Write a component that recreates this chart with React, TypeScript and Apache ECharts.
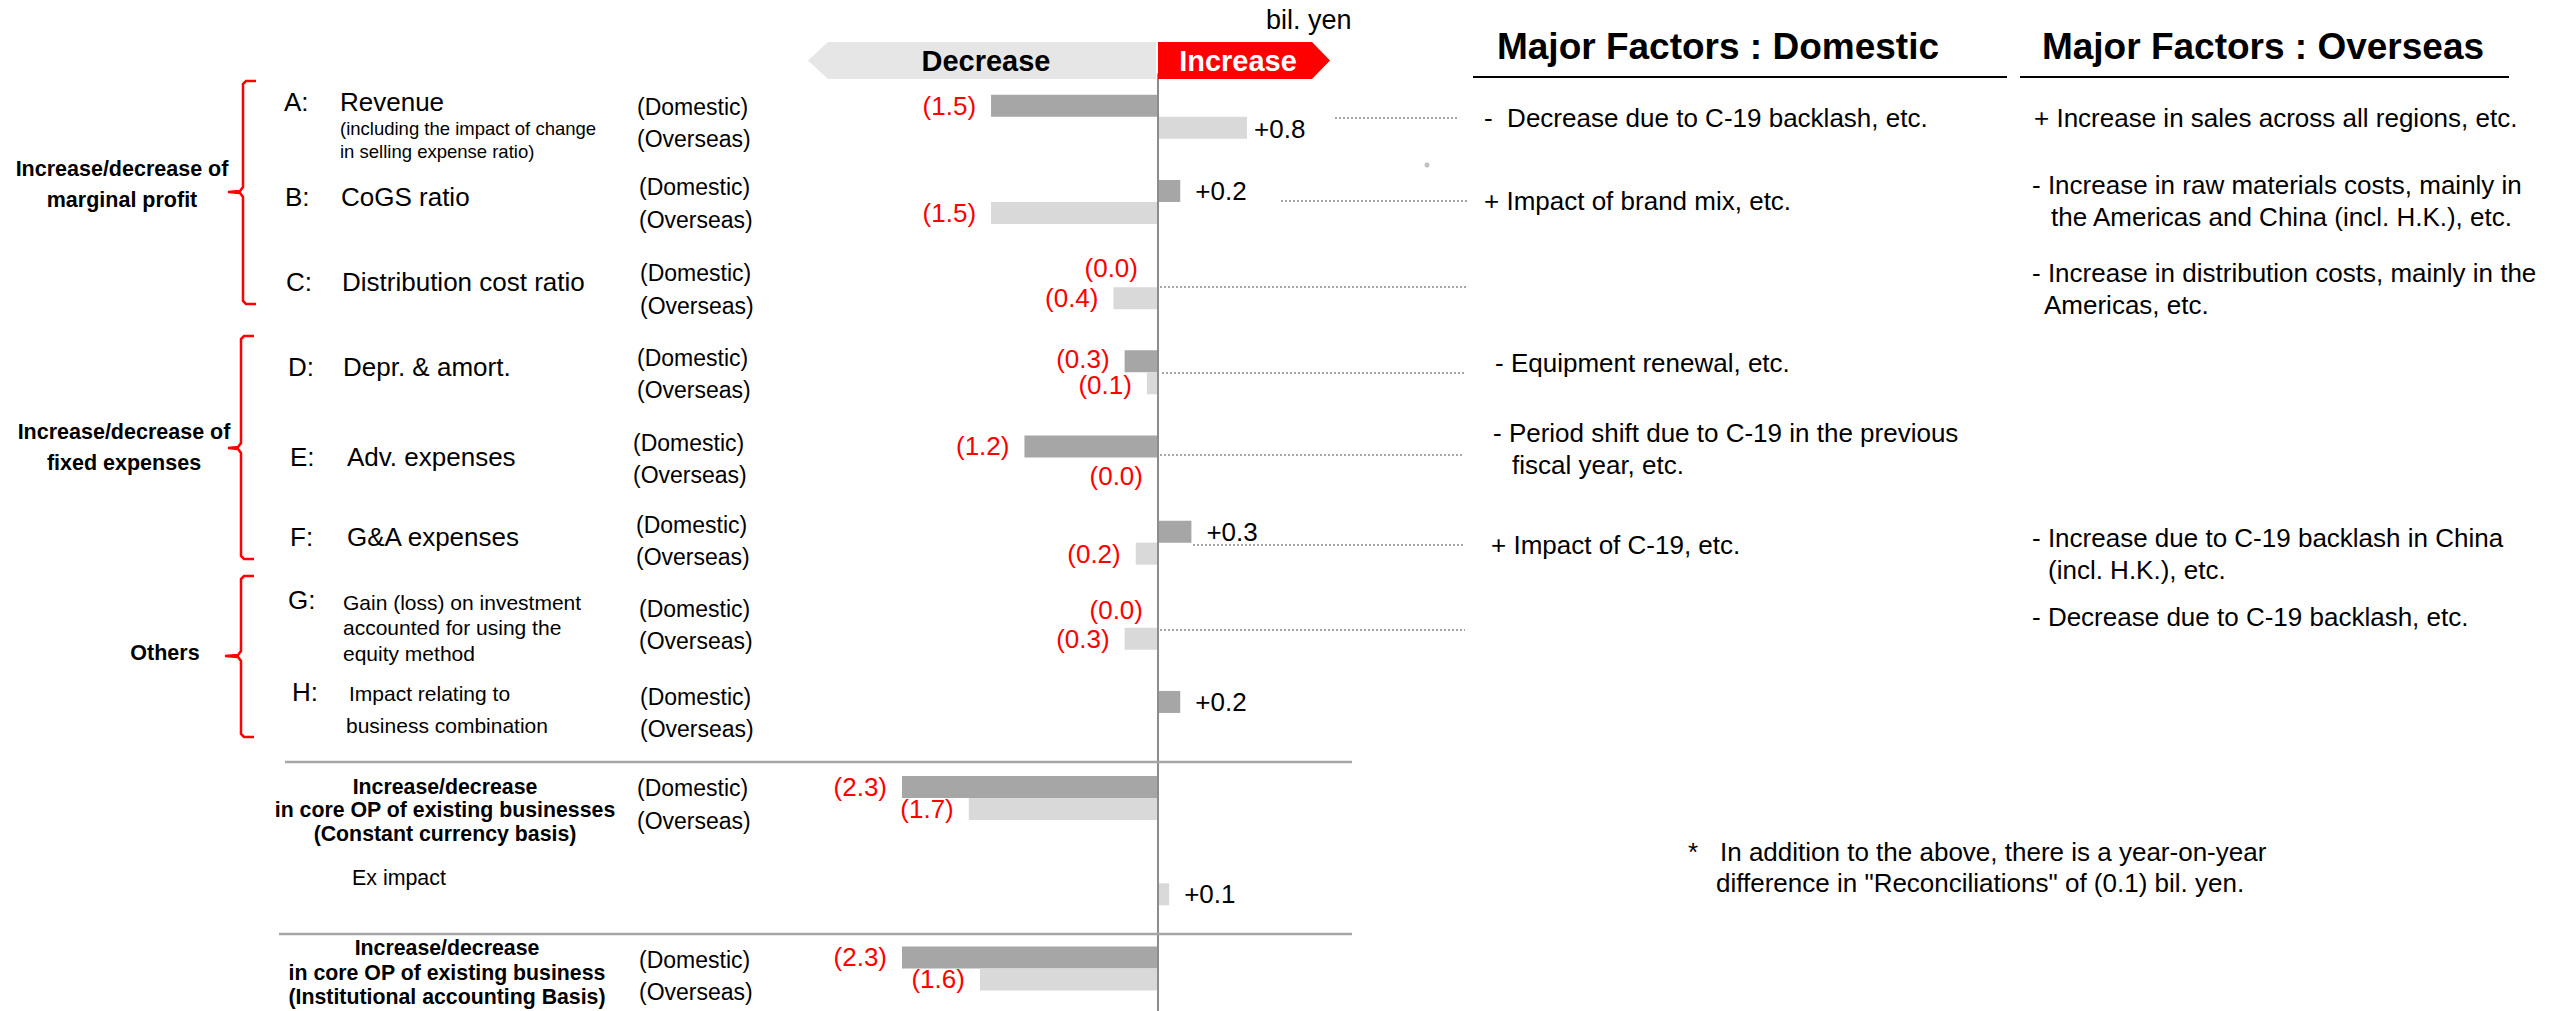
import React, { useEffect, useRef } from "react";
import * as echarts from "echarts";

// ---------------- data ----------------
const categories = [
  "A: Revenue",
  "B: CoGS ratio",
  "C: Distribution cost ratio",
  "D: Depr. & amort.",
  "E: Adv. expenses",
  "F: G&A expenses",
  "G: Gain (loss) on investment accounted for using the equity method",
  "H: Impact relating to business combination",
  "Increase/decrease in core OP of existing businesses (Constant currency basis)",
  "Ex impact",
  "Increase/decrease in core OP of existing business (Institutional accounting Basis)",
];
const domesticValues: (number | null)[] = [-1.5, 0.2, 0.0, -0.3, -1.2, 0.3, 0.0, 0.2, -2.3, null, -2.3];
const overseasValues: (number | null)[] = [0.8, -1.5, -0.4, -0.1, 0.0, -0.2, -0.3, null, -1.7, 0.1, -1.6];

const domesticFactors = [
  "-  Decrease due to C-19 backlash, etc.",
  "+ Impact of brand mix, etc.",
  "- Equipment renewal, etc.",
  "- Period shift due to C-19 in the previous",
  "fiscal year, etc.",
  "+ Impact of C-19, etc.",
];
const overseasFactors = [
  "+ Increase in sales across all regions, etc.",
  "- Increase in raw materials costs, mainly in",
  "the Americas and China (incl. H.K.), etc.",
  "- Increase in distribution costs, mainly in the",
  "Americas, etc.",
  "- Increase due to C-19 backlash in China",
  "(incl. H.K.), etc.",
  "- Decrease due to C-19 backlash, etc.",
];

// ---------------- layout / style (not data) ----------------
const FONT = "'Liberation Sans', Arial, Helvetica, sans-serif";
const RED = "#ff0000";
const DOM_COLOR = "#a6a6a6";
const OVS_COLOR = "#d9d9d9";
const PX_PER_UNIT = 111.3;
const ZERO_X = 1158;
const X_MIN = -3;
const X_MAX = 2;
const BAND = 85.5;
const GRID_TOP = 74.25;

const domLabelOffsetY = [0, 0, -8, -2, 0, 0, -7, 0, 0, 0, 0];
const ovsLabelOffsetY = [1, 0, 0, 2, 8, 0, 0, 0, 0, 0, 0];
const domLabelDist = [15, 15, 20, 15, 15, 15, 15, 15, 15, 15, 15];
const ovsLabelDist = [7, 15, 15, 15, 15, 15, 15, 15, 15, 15, 15];

const domFactorPos = [
  [1484, 118], [1484, 201], [1495, 363], [1493, 433], [1512, 465], [1491, 545],
];
const ovsFactorPos = [
  [2034, 118], [2032, 185], [2051, 217], [2032, 273], [2044, 305], [2032, 538], [2048, 570], [2032, 617],
];
const regionLabelY = [
  [107, 139], [187, 220], [273, 306], [358, 390], [443, 475], [525, 557], [609, 641], [697, 729], [788, 821], null, [960, 992],
];
const regionLabelX = [637, 639, 640, 637, 633, 636, 639, 640, 637, 0, 639];

const leaderLines = [
  [1335, 1458, 118], [1281, 1468, 201], [1160, 1468, 287], [1162, 1465, 373],
  [1160, 1463, 455], [1193, 1465, 545], [1160, 1465, 630],
];

function txt(text: string, x: number, y: number, size: number, o: any = {}) {
  const align = o.align || "left";
  return {
    type: "text",
    x,
    y,
    silent: true,
    z: 20,
    style: {
      text,
      fontSize: size,
      fontFamily: FONT,
      fontWeight: o.bold ? "bold" : "normal",
      fill: o.color || "#000",
      textAlign: align,
      align,
      textVerticalAlign: "middle",
      verticalAlign: "middle",
      lineHeight: o.lh,
    },
  };
}

function brace(x: number, top: number, bottom: number, tipX: number, tipY: number) {
  return {
    type: "polyline",
    silent: true,
    z: 20,
    shape: {
      points: [
        [x + 13, top], [x + 3, top], [x, top + 3], [x, tipY - 5], [x - 3, tipY - 1], [tipX, tipY],
        [x - 3, tipY + 1], [x, tipY + 5], [x, bottom - 3], [x + 3, bottom], [x + 13, bottom],
      ],
    },
    style: { stroke: RED, lineWidth: 2.5, fill: null },
  };
}

function buildGraphics() {
  const g: any[] = [];
  // Decrease / Increase arrows
  g.push({
    type: "polygon", silent: true, z: 5,
    shape: { points: [[808, 60.5], [828, 42], [1156, 42], [1156, 79], [828, 79]] },
    style: { fill: "#e6e6e6" },
  });
  g.push({
    type: "polygon", silent: true, z: 5,
    shape: { points: [[1158, 42], [1312, 42], [1330, 60.5], [1312, 79], [1158, 79]] },
    style: { fill: RED },
  });
  g.push(txt("Decrease", 986, 61, 29, { bold: true, align: "center" }));
  g.push(txt("Increase", 1238, 61, 29, { bold: true, align: "center", color: "#fff" }));
  g.push(txt("bil. yen", 1266, 20, 27));

  // headers
  g.push(txt("Major Factors : Domestic", 1718, 46, 37, { bold: true, align: "center" }));
  g.push(txt("Major Factors : Overseas", 2263, 46, 37, { bold: true, align: "center" }));
  g.push({ type: "line", silent: true, z: 5, shape: { x1: 1473, y1: 77, x2: 2007, y2: 77 }, style: { stroke: "#000", lineWidth: 2 } });
  g.push({ type: "line", silent: true, z: 5, shape: { x1: 2020, y1: 77, x2: 2509, y2: 77 }, style: { stroke: "#000", lineWidth: 2 } });

  // factors
  domesticFactors.forEach((t, i) => g.push(txt(t, domFactorPos[i][0], domFactorPos[i][1], 26)));
  overseasFactors.forEach((t, i) => g.push(txt(t, ovsFactorPos[i][0], ovsFactorPos[i][1], 26)));

  // footnote
  g.push(txt("*", 1688, 852, 26));
  g.push(txt("In addition to the above, there is a year-on-year", 1720, 852, 26));
  g.push(txt('difference in "Reconciliations" of (0.1) bil. yen.', 1716, 883, 26));

  // leader lines
  leaderLines.forEach(([x1, x2, y]) =>
    g.push({
      type: "line", silent: true, z: 5,
      shape: { x1, y1: y, x2, y2: y },
      style: { stroke: "#a6a6a6", lineWidth: 2, lineDash: [2, 2] },
    })
  );
  g.push({ type: "circle", silent: true, z: 5, shape: { cx: 1427, cy: 165, r: 2.5 }, style: { fill: "#bfbfbf" } });

  // separators
  g.push({ type: "line", silent: true, z: 5, shape: { x1: 285, y1: 762, x2: 1352, y2: 762 }, style: { stroke: "#a6a6a6", lineWidth: 2.5 } });
  g.push({ type: "line", silent: true, z: 5, shape: { x1: 279, y1: 934, x2: 1352, y2: 934 }, style: { stroke: "#a6a6a6", lineWidth: 2.5 } });

  // item titles
  const titles: [string, number, string, number, number][] = [
    ["A:", 284, "Revenue", 340, 102],
    ["B:", 285, "CoGS ratio", 341, 197],
    ["C:", 286, "Distribution cost ratio", 342, 282],
    ["D:", 288, "Depr. & amort.", 343, 367],
    ["E:", 290, "Adv. expenses", 347, 457],
    ["F:", 290, "G&A expenses", 347, 537],
  ];
  titles.forEach(([l, lx, t, tx, y]) => {
    g.push(txt(l, lx, y, 26));
    g.push(txt(t, tx, y, 26));
  });
  g.push(txt("(including the impact of change\nin selling expense ratio)", 340, 139.5, 18.5, { lh: 23 }));
  g.push(txt("G:", 288, 600, 26));
  g.push(txt("Gain (loss) on investment\naccounted for using the\nequity method", 343, 627.5, 21, { lh: 25.5 }));
  g.push(txt("H:", 292, 692, 26));
  g.push(txt("Impact relating to", 349, 693, 21));
  g.push(txt("business combination", 346, 725, 21));
  g.push(txt("Ex impact", 352, 878, 21.4));
  g.push(txt("Increase/decrease\nin core OP of existing businesses\n(Constant currency basis)", 445, 810, 21.3, { bold: true, align: "center", lh: 23.5 }));
  g.push(txt("Increase/decrease\nin core OP of existing business\n(Institutional accounting Basis)", 447, 972.5, 21.3, { bold: true, align: "center", lh: 24.5 }));

  // region labels
  regionLabelY.forEach((ys, i) => {
    if (!ys) return;
    g.push(txt("(Domestic)", regionLabelX[i], ys[0], 23));
    g.push(txt("(Overseas)", regionLabelX[i], ys[1], 23));
  });

  // group labels and braces
  g.push(txt("Increase/decrease of\nmarginal profit", 122, 184.5, 21.5, { bold: true, align: "center", lh: 31 }));
  g.push(txt("Increase/decrease of\nfixed expenses", 124, 447.5, 21.5, { bold: true, align: "center", lh: 31 }));
  g.push(txt("Others", 165, 653, 21.5, { bold: true, align: "center" }));
  g.push(brace(243, 81, 304, 228, 192));
  g.push(brace(241, 336, 559, 228, 448));
  g.push(brace(241, 576, 737, 225, 656));
  return g;
}

function mkData(vals: (number | null)[], offs: number[], dists: number[]) {
  return vals.map((v, i) =>
    v === null
      ? null
      : {
          value: v,
          label: {
            position: v > 0 ? "right" : "left",
            color: v > 0 ? "#000" : RED,
            distance: dists[i],
            offset: [0, offs[i]],
          },
        }
  );
}

const fmt = (p: any) => {
  const v = typeof p.value === "number" ? p.value : Number(p.value);
  return v > 0 ? "+" + v.toFixed(1) : "(" + Math.abs(v).toFixed(1) + ")";
};

export default function App() {
  const ref = useRef<HTMLDivElement>(null);
  useEffect(() => {
    document.body.style.margin = "0";
    document.body.style.overflow = "hidden";
    const chart = echarts.init(ref.current!, undefined, { renderer: "svg" });
    const labelBase = { show: true, fontSize: 26, lineHeight: 24, fontFamily: FONT, formatter: fmt };
    chart.setOption({
      animation: false,
      backgroundColor: "#ffffff",
      textStyle: { fontFamily: FONT },
      grid: {
        left: ZERO_X + X_MIN * PX_PER_UNIT,
        width: (X_MAX - X_MIN) * PX_PER_UNIT,
        top: GRID_TOP,
        height: BAND * categories.length,
        containLabel: false,
      },
      xAxis: {
        type: "value",
        min: X_MIN,
        max: X_MAX,
        show: false,
        splitLine: { show: false },
      },
      yAxis: {
        type: "category",
        data: categories,
        inverse: true,
        axisLabel: { show: false },
        axisTick: { show: false },
        splitLine: { show: false },
        axisLine: { show: true, onZero: true, lineStyle: { color: "#8c8c8c", width: 2 } },
        z: 3,
      },
      series: [
        {
          name: "Domestic",
          type: "bar",
          barWidth: 22,
          barGap: "0%",
          itemStyle: { color: DOM_COLOR },
          label: labelBase,
          data: mkData(domesticValues, domLabelOffsetY, domLabelDist),
        },
        {
          name: "Overseas",
          type: "bar",
          barWidth: 22,
          barGap: "0%",
          itemStyle: { color: OVS_COLOR },
          label: labelBase,
          data: mkData(overseasValues, ovsLabelOffsetY, ovsLabelDist),
        },
      ],
      graphic: buildGraphics(),
    });
    return () => chart.dispose();
  }, []);
  return <div ref={ref} style={{ width: 2552, height: 1011 }} />;
}
